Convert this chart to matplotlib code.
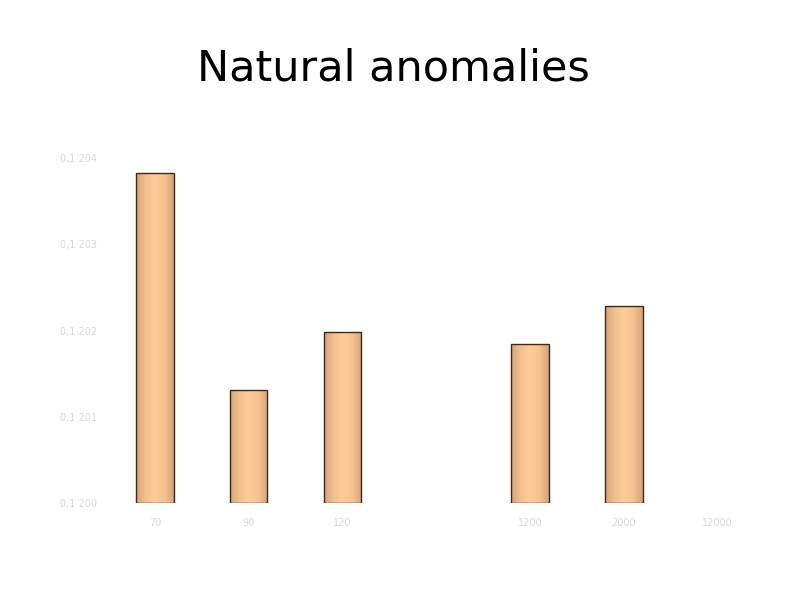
import numpy as np
import matplotlib

matplotlib.use("Agg")
import matplotlib.pyplot as plt
from matplotlib.colors import LinearSegmentedColormap

# data (faint tick labels are best guesses)
categories = ["70", "90", "120", "", "1200", "2000", "12000"]
values = [0.120383, 0.120131, 0.120198, np.nan, 0.120184, 0.120229, np.nan]
y_ticks = [0.1200, 0.1201, 0.1202, 0.1203, 0.1204]
y_tick_labels = ["0,1 200", "0,1 201", "0,1 202", "0,1 203", "0,1 204"]

BASE = 0.1200
BAR_W = 0.4
EDGE = "#3a2a1a"
LABEL_GREY = "#d8d8d8"
shade = LinearSegmentedColormap.from_list(
    "bar", ["#d4a57a", "#f2bf90", "#ffcc99", "#f7c290", "#d4a57a"])

fig = plt.figure(figsize=(7.94, 5.95), dpi=100)
ax = fig.add_axes([0.136, 0.1546, 0.827, 0.5798])

x = np.arange(len(categories))
grad = np.linspace(0, 1, 64).reshape(1, -1)
for xi, v in zip(x, values):
    if np.isnan(v):
        continue
    bar = ax.bar(xi, v - BASE, bottom=BASE, width=BAR_W, facecolor="none",
                 edgecolor=EDGE, linewidth=1.0, zorder=3)[0]
    im = ax.imshow(grad, cmap=shade, aspect="auto", zorder=2,
                   extent=(xi - BAR_W / 2, xi + BAR_W / 2, BASE, v))
    im.set_clip_path(bar)

ax.set_xlim(-0.5, len(categories) - 0.5)
ax.set_ylim(BASE, 0.1204)
ax.set_xticks(x)
ax.set_xticklabels(categories)
ax.set_yticks(y_ticks)
ax.set_yticklabels(y_tick_labels)
ax.tick_params(length=0, labelsize=7, labelcolor=LABEL_GREY)
ax.tick_params(axis="x", pad=11)
ax.tick_params(axis="y", pad=8)
for side in ax.spines.values():
    side.set_visible(False)

fig.text(0.496, 0.885, "Natural anomalies", ha="center", va="center",
         fontsize=31, color="black")

fig.savefig("out.png", dpi=100)
